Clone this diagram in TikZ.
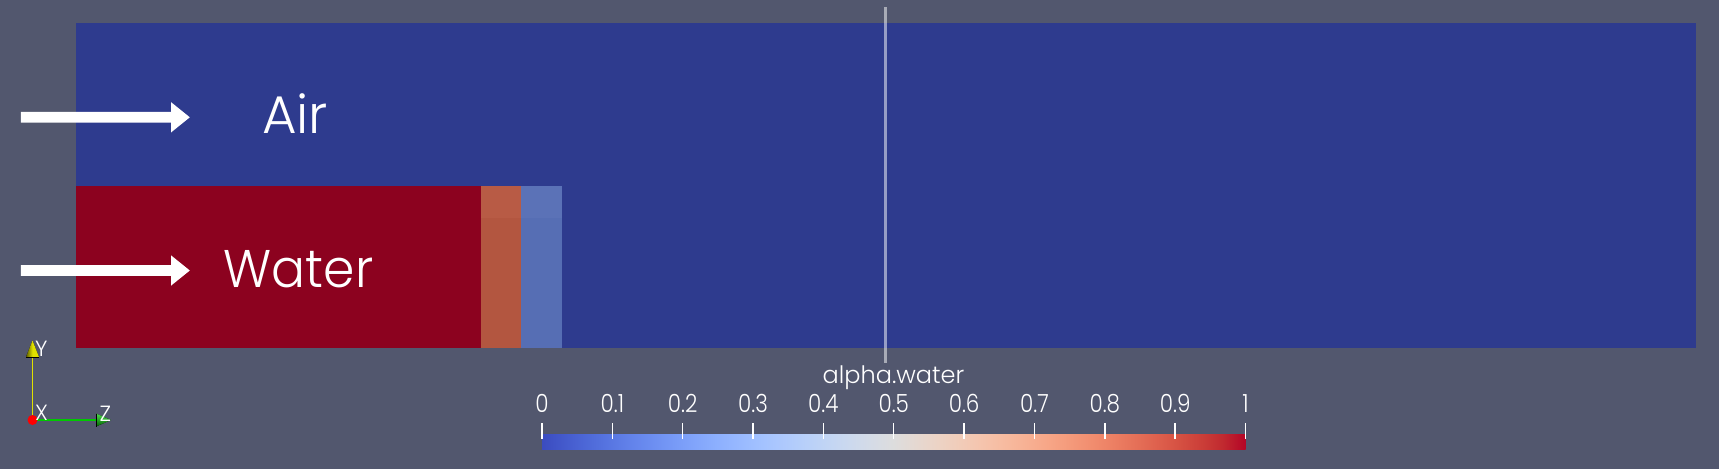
\documentclass[tikz,border=0pt]{standalone}
\usepackage{fontspec}
\setmainfont{Poppins Light}
\usetikzlibrary{arrows.meta}
\definecolor{bg}{RGB}{82,87,110}
\definecolor{airblue}{RGB}{46,59,142}
\definecolor{waterred}{RGB}{140,2,31}
\definecolor{bandorange}{RGB}{179,86,64}
\definecolor{bandorangetop}{RGB}{184,91,69}
\definecolor{bandblue}{RGB}{86,110,180}
\definecolor{bandbluetop}{RGB}{91,114,183}
\definecolor{axyellow}{RGB}{225,225,0}
\definecolor{axgreen}{RGB}{0,200,0}
\definecolor{cw0}{RGB}{59,76,192}
\definecolor{cw1}{RGB}{68,90,204}
\definecolor{cw2}{RGB}{77,104,215}
\definecolor{cw3}{RGB}{87,117,225}
\definecolor{cw4}{RGB}{98,130,234}
\definecolor{cw5}{RGB}{108,142,241}
\definecolor{cw6}{RGB}{119,154,247}
\definecolor{cw7}{RGB}{130,165,251}
\definecolor{cw8}{RGB}{141,176,254}
\definecolor{cw9}{RGB}{152,185,255}
\definecolor{cw10}{RGB}{163,194,255}
\definecolor{cw11}{RGB}{174,201,253}
\definecolor{cw12}{RGB}{184,208,249}
\definecolor{cw13}{RGB}{194,213,244}
\definecolor{cw14}{RGB}{204,217,238}
\definecolor{cw15}{RGB}{213,219,230}
\definecolor{cw16}{RGB}{221,221,221}
\definecolor{cw17}{RGB}{229,216,209}
\definecolor{cw18}{RGB}{236,211,197}
\definecolor{cw19}{RGB}{241,204,185}
\definecolor{cw20}{RGB}{245,196,173}
\definecolor{cw21}{RGB}{247,187,160}
\definecolor{cw22}{RGB}{247,177,148}
\definecolor{cw23}{RGB}{247,166,135}
\definecolor{cw24}{RGB}{244,154,123}
\definecolor{cw25}{RGB}{241,141,111}
\definecolor{cw26}{RGB}{236,127,99}
\definecolor{cw27}{RGB}{229,112,88}
\definecolor{cw28}{RGB}{222,96,77}
\definecolor{cw29}{RGB}{213,80,66}
\definecolor{cw30}{RGB}{203,62,56}
\definecolor{cw31}{RGB}{192,40,47}
\definecolor{cw32}{RGB}{180,4,38}
\pgfdeclarehorizontalshading{coolwarm}{100bp}{color(0bp)=(cw0); color(25bp)=(cw0);
 color(26.5625bp)=(cw1); color(28.125bp)=(cw2); color(29.6875bp)=(cw3); color(31.25bp)=(cw4);
 color(32.8125bp)=(cw5); color(34.375bp)=(cw6); color(35.9375bp)=(cw7); color(37.5bp)=(cw8);
 color(39.0625bp)=(cw9); color(40.625bp)=(cw10); color(42.1875bp)=(cw11); color(43.75bp)=(cw12);
 color(45.3125bp)=(cw13); color(46.875bp)=(cw14); color(48.4375bp)=(cw15); color(50bp)=(cw16);
 color(51.5625bp)=(cw17); color(53.125bp)=(cw18); color(54.6875bp)=(cw19); color(56.25bp)=(cw20);
 color(57.8125bp)=(cw21); color(59.375bp)=(cw22); color(60.9375bp)=(cw23); color(62.5bp)=(cw24);
 color(64.0625bp)=(cw25); color(65.625bp)=(cw26); color(67.1875bp)=(cw27); color(68.75bp)=(cw28);
 color(70.3125bp)=(cw29); color(71.875bp)=(cw30); color(73.4375bp)=(cw31); color(75bp)=(cw32);
 color(100bp)=(cw32)}
\tikzset{
  bigtext/.style={text=white, inner sep=0pt, anchor=base, font=\fontsize{53}{60}\selectfont},
  ticklabel/.style={text=white, inner sep=0pt, anchor=base, xscale=0.86, font=\fontsize{25}{29}\selectfont},
  titletext/.style={text=white, inner sep=0pt, anchor=base, font=\fontsize{24}{28}\selectfont},
  axlabel/.style={text=white, inner sep=0pt, font=\fontsize{22}{26}\selectfont},
  tickmark/.style={white, line width=1.4pt},
  flowarrow/.pic={\fill[white] (0,-5.35) -- (150.2,-5.35) -- (150.2,-15.2) -- (169,0)
     -- (150.2,15.2) -- (150.2,5.35) -- (0,5.35) -- cycle;}
}
\begin{document}
\begin{tikzpicture}[x=1pt,y=-1pt]
\fill[bg] (0,0) rectangle (1719,469);
\useasboundingbox (0,0) rectangle (1719,469);
% domain
\fill[airblue] (75.6,23) rectangle (1695.7,347.7);
\fill[waterred] (75.6,186.4) rectangle (481,347.7);
\fill[bandorange] (481,186.4) rectangle (521,347.7);
\fill[bandorangetop] (481,186.4) rectangle (521,218);
\fill[bandblue] (521,186.4) rectangle (561.5,347.7);
\fill[bandbluetop] (521,186.4) rectangle (561.5,218);
% slice line
\coordinate (lt) at (885,7);
\coordinate (lb) at (885,363);
\draw[white, opacity=0.5, line width=3pt] (lt) -- (lb);
% inflow arrows and labels
\pic at (20.8,117.3) {flowarrow};
\pic at (20.8,270.5) {flowarrow};
\node[bigtext] (air) at (295,133.3) {Air};
\node[bigtext, xscale=0.95] (water) at (298.5,287.3) {Water};
% colour bar
\shade[shading=coolwarm] (542,434) rectangle (1245.5,449.5);
\foreach \k [evaluate=\k as \xx using 542+70.35*\k] in {0,...,10}{
  \draw[tickmark] (\xx,423.3) -- (\xx,439);
}
\foreach \k/\lab in {0/0,1/0.1,2/0.2,3/0.3,4/0.4,5/0.5,6/0.6,7/0.7,8/0.8,9/0.9,10/1}{
  \node[ticklabel] (t\k) at (542+70.35*\k,412.7) {\lab};
}
\node[titletext] (title) at (893.5,383.3) {alpha.water};
% orientation triad
\coordinate (o) at (32.5,420);
\coordinate (yb) at (32.5,357);
\coordinate (zb) at (96,420);
\draw[axyellow, line width=1.3pt] (o) -- (yb);
\draw[axgreen, line width=1.3pt] (o) -- (zb);
\fill[left color=black!60!axyellow, right color=axyellow, middle color=axyellow]
  (26,357) -- (32.5,340.5) -- (39,357) -- cycle;
\draw[black, line width=1pt] (26,357) -- (39,357);
\fill[top color=axgreen!70!white, bottom color=black!50!axgreen]
  (96,413.5) -- (111,420) -- (96,426.5) -- cycle;
\draw[black, line width=1pt] (96,413.5) -- (96,426.5);
\fill[red] (o) circle (5);
\node[axlabel, anchor=south west] (ly) at (35,357) {Y};
\node[axlabel, anchor=south west] (lx) at (35,421) {X};
\node[axlabel, anchor=south west] (lz) at (99.5,421.5) {Z};
\end{tikzpicture}
\end{document}
